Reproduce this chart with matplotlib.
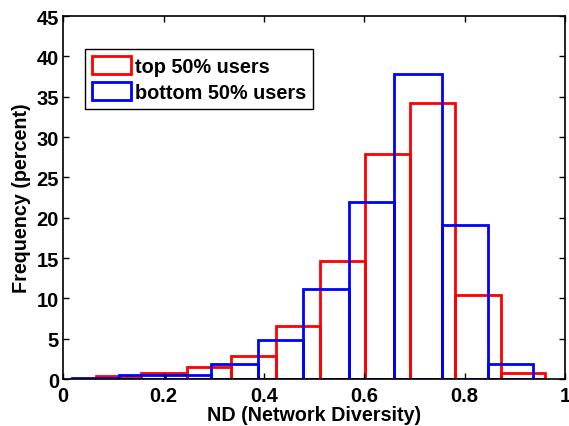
import numpy as np
import matplotlib
matplotlib.use("Agg")
import matplotlib.pyplot as plt
from matplotlib.patches import Patch

# bin edges and heights (percent)
top_edges = [0.066, 0.156, 0.246, 0.334, 0.424, 0.512, 0.602, 0.692, 0.780, 0.872, 0.960]
top_freq = [0.35, 0.75, 1.45, 2.8, 6.6, 14.6, 27.9, 34.2, 10.4, 0.7]

bottom_edges = [0.018, 0.112, 0.202, 0.294, 0.388, 0.478, 0.570, 0.660, 0.754, 0.846, 0.936]
bottom_freq = [0.1, 0.5, 0.55, 1.9, 4.9, 11.15, 22.0, 37.8, 19.1, 1.9]

xticks = [0, 0.2, 0.4, 0.6, 0.8, 1]
xticklabels = ["0", "0.2", "0.4", "0.6", "0.8", "1"]
yticks = [0, 5, 10, 15, 20, 25, 30, 35, 40, 45]

plt.rcParams['font.family'] = ['Liberation Sans', 'DejaVu Sans']
plt.rcParams['font.weight'] = 'bold'

fig = plt.figure(figsize=(5.69, 4.27), dpi=100)
ax = fig.add_axes([0.111, 0.110, 0.882, 0.850])

te = np.array(top_edges)
be = np.array(bottom_edges)
ax.bar(te[:-1], top_freq, width=np.diff(te), align='edge', fill=False,
	edgecolor='#ff0000', linewidth=2)
ax.bar(be[:-1], bottom_freq, width=np.diff(be), align='edge', fill=False,
	edgecolor='#0000ff', linewidth=2)

ax.set_xlim(0, 1)
ax.set_ylim(0, 45)
ax.set_xticks(xticks)
ax.set_xticklabels(xticklabels)
ax.set_yticks(yticks)
ax.tick_params(direction='in', top=True, right=True, length=4, width=1,
	labelsize=14.5)
ax.tick_params(axis='x', pad=5)
ax.tick_params(axis='y', pad=3)
for lab in ax.get_xticklabels() + ax.get_yticklabels():
	lab.set_fontweight('bold')
for sp in ax.spines.values():
	sp.set_linewidth(1.2)

ax.set_xlabel("ND (Network Diversity)", fontsize=14.2, fontweight='bold', labelpad=0)
ax.set_ylabel("Frequency (percent)", fontsize=14.2, fontweight='bold', labelpad=4)

handles = [Patch(facecolor='none', edgecolor='#ff0000', linewidth=2),
	Patch(facecolor='none', edgecolor='#0000ff', linewidth=2)]
leg = ax.legend(handles, ["top 50% users", "bottom 50% users"],
	loc='upper left', bbox_to_anchor=(0.044, 0.909),
	prop={'weight': 'bold', 'size': 14.3}, fancybox=False, framealpha=1,
	edgecolor='black', handlelength=1.95, handleheight=1.05,
	handletextpad=0.2, borderpad=0.35, labelspacing=0.3, borderaxespad=0)
leg.get_frame().set_linewidth(1)

fig.savefig("out.png", dpi=100)
